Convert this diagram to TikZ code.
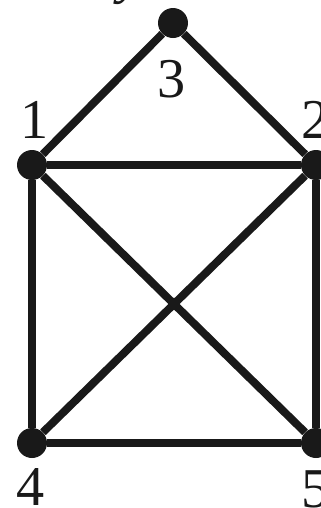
\documentclass[tikz,border=0pt]{standalone}
\usepackage{fontspec}
\setmainfont{Liberation Serif}
\usetikzlibrary{positioning}

\begin{document}
\begin{tikzpicture}[
  x=0.02cm, y=-0.02cm,
  dot/.style={circle, fill=black!90, inner sep=0pt, minimum size=0.6cm},
  lbl/.style={font=\fontsize{32}{36}\selectfont, inner sep=0pt, text=black!90},
  edge/.style={line width=4.5pt, draw=black!90}
]
  \useasboundingbox (0,0) rectangle (321,508);
  \clip (0,0) rectangle (321,508);
  % vertices
  \node[dot] (v1) at (32,165) {};
  \node[dot] (v2) at (316,165) {};
  \node[dot] (v3) at (173,23) {};
  \node[dot] (v4) at (32,443) {};
  \node[dot] (v5) at (316,443) {};
  % labels
  \node[lbl] (l1) at (35,120) {1};
  \node[lbl] (l2) at (316,120) {2};
  \node[lbl] (l3) at (172,79) {3};
  \node[lbl] (l4) at (31,487) {4};
  \node[lbl] (l5) at (316,489) {5};
  \node[lbl, anchor=base west] (ttl) at (118,-8) {\itshape y};
  % edges
  \draw[edge] (v1) -- (v3) -- (v2);
  \draw[edge] (v1) -- (v2) -- (v5) -- (v4) -- (v1);
  \draw[edge] (v1) -- (v5);
  \draw[edge] (v2) -- (v4);
\end{tikzpicture}
\end{document}
